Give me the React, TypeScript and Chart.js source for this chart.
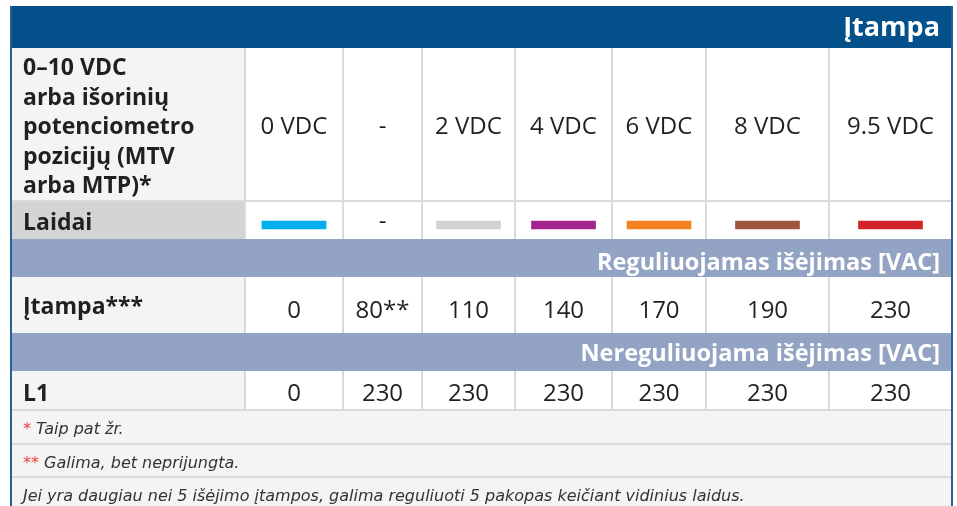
import React, { useEffect, useRef } from "react";
import { Chart, registerables } from "chart.js";

Chart.register(...registerables);

// ---------- data ----------
const TITLE = "Įtampa";
const INPUT_LABEL_LINES = ["0–10 VDC", "arba išorinių", "potenciometro", "pozicijų (MTV", "arba MTP)*"];
const INPUT_VOLTAGES = ["0 VDC", "-", "2 VDC", "4 VDC", "6 VDC", "8 VDC", "9.5 VDC"];
const WIRE_LABEL = "Laidai";
const WIRE_COLORS: (string | null)[] = ["#00aeef", null, "#d1d2d4", "#a3238f", "#f58220", "#a0553f", "#d2232a"];
const REGULATED_TITLE = "Reguliuojamas išėjimas [VAC]";
const REGULATED_LABEL = "Įtampa***";
const REGULATED_VALUES = ["0", "80**", "110", "140", "170", "190", "230"];
const UNREGULATED_TITLE = "Nereguliuojama išėjimas [VAC]";
const UNREGULATED_LABEL = "L1";
const UNREGULATED_VALUES = ["0", "230", "230", "230", "230", "230", "230"];
const FOOTNOTE_MARKS = ["*", "**", ""];
const FOOTNOTE_TEXTS = [" Taip pat žr.", " Galima, bet neprijungta.", "Jei yra daugiau nei 5 išėjimo įtampos, galima reguliuoti 5 pakopas keičiant vidinius laidus."];

// ---------- layout ----------
const W = 957;
const H = 506;
const COL_EDGES = [10, 245, 343, 422, 515, 612, 706, 829, 952];
const ROW_EDGES = [6, 48, 201, 239, 277, 333, 371, 410, 444, 477, 511];
const SWATCH_TOP = 20;
const SWATCH_BOTTOM = 28;

const C_DARK = "#03508a";
const C_BAND = "#93a3c3";
const C_LABEL = "#f4f4f4";
const C_WIRE_LABEL = "#d3d4d6";
const C_GRID = "#dadada";
const C_TEXT = "#231f20";
const C_RED = "#e8423f";
const SANS = '"Open Sans", "Noto Sans", sans-serif';
const ITALIC = '"DejaVu Sans", sans-serif';

const tablePlugin = {
  id: "tableGrid",
  beforeDatasetsDraw(chart: any) {
    const { ctx } = chart;
    const xs = chart.scales.x;
    const ys = chart.scales.y;
    const X = (v: number) => xs.getPixelForValue(v);
    const Y = (v: number) => ys.getPixelForValue(v);
    const rect = (x0: number, y0: number, x1: number, y1: number, c: string) => {
      ctx.fillStyle = c;
      ctx.fillRect(X(x0), Y(y0), X(x1) - X(x0), Y(y1) - Y(y0));
    };
    const L = COL_EDGES[0];
    const R = COL_EDGES[COL_EDGES.length - 1];
    const colCenter = (i: number) => (X(COL_EDGES[i + 1]) + X(COL_EDGES[i + 2])) / 2;

    ctx.save();
    rect(L, ROW_EDGES[0], R, ROW_EDGES[10], "#ffffff");
    rect(L, ROW_EDGES[0], R + 1, ROW_EDGES[1], C_DARK);
    rect(L, ROW_EDGES[1], COL_EDGES[1], ROW_EDGES[2], C_LABEL);
    rect(L, ROW_EDGES[2], COL_EDGES[1], ROW_EDGES[3], C_WIRE_LABEL);
    rect(L, ROW_EDGES[3], R, ROW_EDGES[4], C_BAND);
    rect(L, ROW_EDGES[4], COL_EDGES[1], ROW_EDGES[5], C_LABEL);
    rect(L, ROW_EDGES[5], R, ROW_EDGES[6], C_BAND);
    rect(L, ROW_EDGES[6], COL_EDGES[1], ROW_EDGES[7], C_LABEL);
    rect(L, ROW_EDGES[7], R, ROW_EDGES[10], C_LABEL);

    ctx.strokeStyle = C_GRID;
    ctx.lineWidth = 2;
    const vline = (xv: number, y0: number, y1: number) => {
      ctx.beginPath();
      ctx.moveTo(X(xv), Y(y0));
      ctx.lineTo(X(xv), Y(y1));
      ctx.stroke();
    };
    const hline = (yv: number, x0: number, x1: number) => {
      ctx.beginPath();
      ctx.moveTo(X(x0), Y(yv));
      ctx.lineTo(X(x1), Y(yv));
      ctx.stroke();
    };
    for (let i = 1; i < COL_EDGES.length - 1; i++) {
      vline(COL_EDGES[i], ROW_EDGES[1], ROW_EDGES[3]);
      vline(COL_EDGES[i], ROW_EDGES[4], ROW_EDGES[5]);
      vline(COL_EDGES[i], ROW_EDGES[6], ROW_EDGES[7]);
    }
    hline(ROW_EDGES[2], L, R);
    hline(ROW_EDGES[7], L, R);
    hline(ROW_EDGES[8], L, R);
    hline(ROW_EDGES[9], L, R);

    ctx.strokeStyle = "#2a5f95";
    ctx.lineWidth = 2;
    vline(L + 1, ROW_EDGES[0], ROW_EDGES[10]);
    vline(R, ROW_EDGES[0], ROW_EDGES[10]);

    ctx.textBaseline = "alphabetic";
    ctx.fillStyle = "#ffffff";
    ctx.textAlign = "right";
    ctx.font = `bold 27px ${SANS}`;
    ctx.fillText(TITLE, X(940), Y(36));
    ctx.font = `bold 23.5px ${SANS}`;
    ctx.fillText(REGULATED_TITLE, X(940), Y(270));
    ctx.fillText(UNREGULATED_TITLE, X(940), Y(361));

    ctx.fillStyle = C_TEXT;
    ctx.textAlign = "left";
    ctx.font = `bold 23px ${SANS}`;
    INPUT_LABEL_LINES.forEach((t, i) => ctx.fillText(t, X(23), Y(75 + i * 29.5)));
    ctx.fillText(WIRE_LABEL, X(23), Y(230));
    ctx.fillText(REGULATED_LABEL, X(23), Y(314));
    ctx.fillText(UNREGULATED_LABEL, X(23), Y(401));

    ctx.textAlign = "center";
    ctx.font = `24px ${SANS}`;
    INPUT_VOLTAGES.forEach((t, i) => ctx.fillText(t, colCenter(i), Y(134)));
    WIRE_COLORS.forEach((c, i) => {
      if (c === null) ctx.fillText("-", colCenter(i), Y(229));
    });
    REGULATED_VALUES.forEach((t, i) => ctx.fillText(t, colCenter(i), Y(318)));
    UNREGULATED_VALUES.forEach((t, i) => ctx.fillText(t, colCenter(i), Y(401)));

    ctx.textAlign = "left";
    ctx.font = `italic 16px ${ITALIC}`;
    const footBase = [434, 468, 501];
    FOOTNOTE_TEXTS.forEach((t, i) => {
      let xp = X(23);
      const m = FOOTNOTE_MARKS[i];
      if (m) {
        ctx.fillStyle = C_RED;
        ctx.fillText(m, xp, Y(footBase[i]));
        xp += ctx.measureText(m).width;
      }
      ctx.fillStyle = "#333333";
      ctx.fillText(t, xp, Y(footBase[i]));
    });
    ctx.restore();
  },
};

export default function App() {
  const ref = useRef<HTMLCanvasElement | null>(null);
  useEffect(() => {
    if (!ref.current) return;
    const swatchData: any[] = [];
    const swatchColors: string[] = [];
    WIRE_COLORS.forEach((c, i) => {
      if (c === null) return;
      swatchData.push({
        x: (COL_EDGES[i + 1] + COL_EDGES[i + 2]) / 2,
        y: [ROW_EDGES[2] + SWATCH_TOP, ROW_EDGES[2] + SWATCH_BOTTOM],
      });
      swatchColors.push(c);
    });
    const chart = new Chart(ref.current, {
      type: "bar",
      data: {
        datasets: [
          {
            label: WIRE_LABEL,
            data: swatchData,
            backgroundColor: swatchColors,
            borderWidth: 0,
            barThickness: 64,
          } as any,
        ],
      },
      options: {
        animation: false,
        responsive: false,
        events: [],
        layout: { padding: 0 },
        plugins: { legend: { display: false }, tooltip: { enabled: false }, title: { display: false } },
        scales: {
          x: { type: "linear", min: 0, max: W, display: false, offset: false, grid: { display: false } },
          y: { type: "linear", min: 0, max: H, reverse: true, display: false, grid: { display: false } },
        },
      },
      plugins: [tablePlugin],
    });
    return () => chart.destroy();
  }, []);
  return (
    <canvas
      ref={ref}
      width={W}
      height={H}
      style={{ position: "absolute", left: 0, top: 0, width: W, height: H, display: "block" }}
    />
  );
}
